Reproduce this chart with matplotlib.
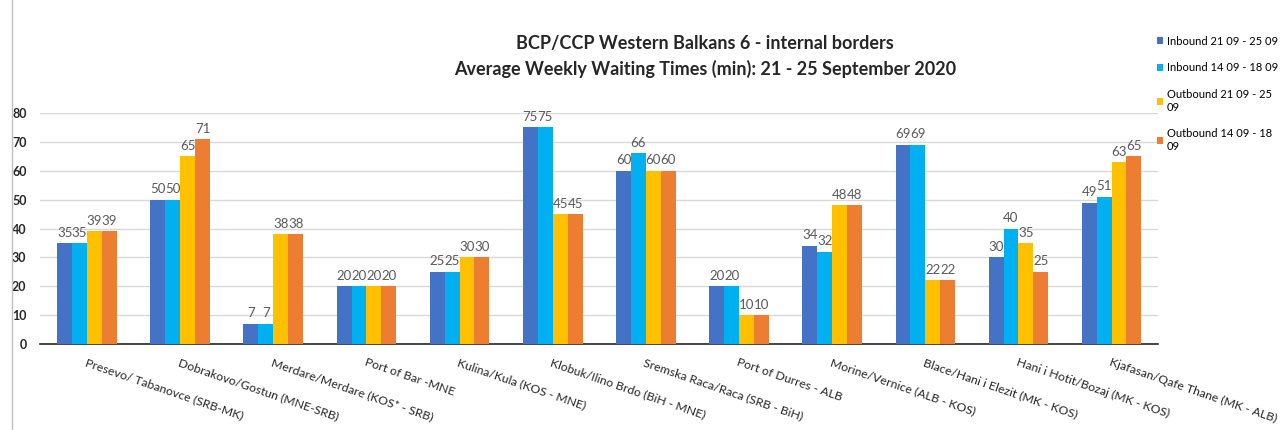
import matplotlib.pyplot as plt
import numpy as np
from matplotlib.lines import Line2D

plt.rcParams['font.family'] = ['Lato', 'DejaVu Sans']

crossings = ['Presevo/ Tabanovce (SRB-MK)', 'Dobrakovo/Gostun (MNE-SRB)',
             'Merdare/Merdare (KOS* - SRB)', 'Port of Bar -MNE',
             'Kulina/Kula (KOS - MNE)', 'Klobuk/Ilino Brdo (BiH - MNE)',
             'Sremska Raca/Raca (SRB - BiH)', 'Port of Durres - ALB',
             'Morine/Vernice (ALB - KOS)', 'Blace/Hani i Elezit (MK - KOS)',
             'Hani i Hotit/Bozaj (MK - KOS)', 'Kjafasan/Qafe Thane (MK - ALB)']
in_21 = [35, 50, 7, 20, 25, 75, 60, 20, 34, 69, 30, 49]
in_14 = [35, 50, 7, 20, 25, 75, 66, 20, 32, 69, 40, 51]
out_21 = [39, 65, 38, 20, 30, 45, 60, 10, 48, 22, 35, 63]
out_14 = [39, 71, 38, 20, 30, 45, 60, 10, 48, 22, 25, 65]
series_names = ['Inbound 21 09 - 25 09', 'Inbound 14 09 - 18 09',
                'Outbound 21 09 - 25\n09', 'Outbound 14 09 - 18\n09']
colors = ['#4472C4', '#00B0F0', '#FFC000', '#ED7D31']

fig = plt.figure(figsize=(12.84, 4.30), dpi=100)
ax = fig.add_axes([0.0315, 0.2, 0.8705, 0.5372])

x = np.arange(len(crossings))
w = 0.16
handles = []
for i, (vals, c, name) in enumerate(zip([in_21, in_14, out_21, out_14], colors, series_names)):
    pos = x + (i - 1.5) * w
    b = ax.bar(pos, vals, w, color=c, label=name, zorder=3)
    handles.append(b)
    for p, v in zip(pos, vals):
        ax.text(p, v + 1.5, str(v), ha='center', va='bottom', fontsize=9.5, color='#595959')

ax.set_xlim(-0.5, len(crossings) - 0.5)
ax.set_ylim(0, 80)
ax.set_yticks(range(0, 81, 10))
ax.yaxis.grid(True, color='#D9D9D9', linewidth=1, zorder=0)
ax.tick_params(axis='y', length=0, labelsize=9, pad=10)
for t in ax.get_yticklabels():
    t.set_fontweight('bold')
    t.set_color('#262626')
ax.set_xticks(x)
ax.set_xticklabels(crossings, rotation=-19, ha='left', va='top',
                   rotation_mode='anchor', fontsize=8.8, color='#262626')
ax.tick_params(axis='x', length=0, pad=9)
for s in ['top', 'right', 'left']:
    ax.spines[s].set_visible(False)
ax.spines['bottom'].set_color('#262626')
ax.spines['bottom'].set_linewidth(1.2)

fig.text(0.549, 0.9, 'BCP/CCP Western Balkans 6 - internal borders',
         ha='center', va='center', fontsize=13, fontweight='bold', color='#262626')
fig.text(0.549, 0.84, 'Average Weekly Waiting Times (min): 21 - 25 September 2020',
         ha='center', va='center', fontsize=13, fontweight='bold', color='#262626')

fig.legend(handles=handles, loc='upper left', bbox_to_anchor=(0.893, 0.94),
           frameon=False, fontsize=8, handlelength=0.6, handleheight=0.6,
           handletextpad=0.3, labelspacing=1.4)

fig.add_artist(Line2D([12 / 1284, 12 / 1284], [0, 1], color='#BFBFBF', linewidth=1))

fig.savefig('out.png', dpi=100)
